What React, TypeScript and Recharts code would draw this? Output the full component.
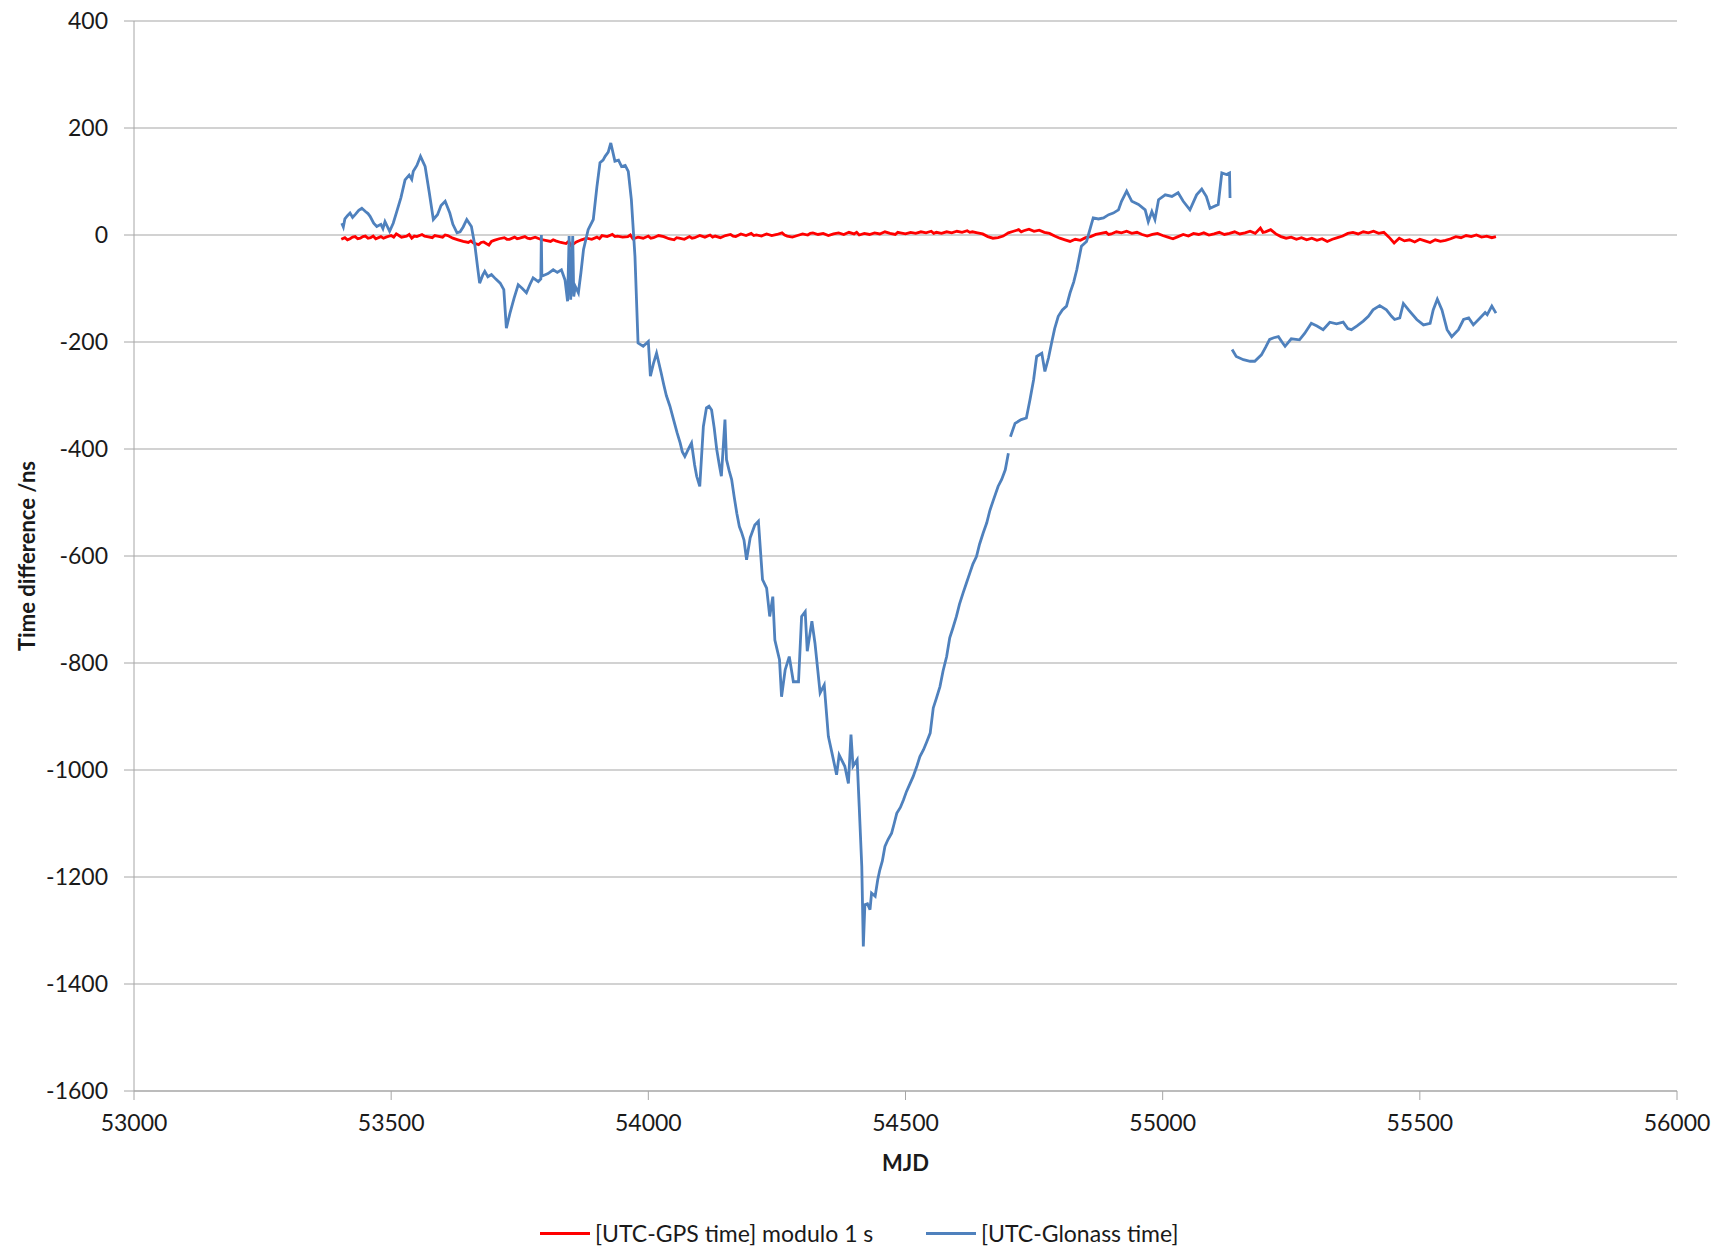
import { LineChart, Line, XAxis, YAxis, CartesianGrid } from 'recharts'

// [MJD, ns]
const gpsPoints: [number, number][] = [
  [53403, -8], [53410, -5], [53415, -9], [53420, -7], [53425, -4], [53430, -3], [53435, -7], [53440, -6], [53445, -3], [53450, -2], [53455, -6], [53460, -5], [53465, -2], [53470, -7],
  [53480, -3], [53485, -6], [53490, -4], [53500, -1], [53505, -4], [53510, 2], [53515, -1], [53520, -4], [53530, -2], [53535, 1], [53540, -6], [53545, -2], [53550, -3],
  [53560, 1], [53565, -2], [53570, -3], [53580, -5], [53585, -1], [53590, -2], [53600, -4], [53605, 0], [53610, -1], [53620, -6], [53630, -9],
  [53640, -12], [53650, -14], [53655, -11], [53660, -15], [53670, -18], [53675, -14], [53680, -13], [53690, -19], [53695, -12], [53700, -10], [53710, -7],
  [53720, -5], [53725, -8], [53730, -8], [53740, -4], [53745, -7], [53750, -6], [53760, -3], [53765, -6], [53770, -7], [53780, -4], [53790, -8],
  [53800, -10], [53810, -12], [53815, -9], [53820, -11], [53830, -14], [53840, -16], [53845, -12], [53850, -20], [53860, -13], [53870, -9],
  [53880, -6], [53890, -8], [53900, -4], [53905, -7], [53910, -1], [53920, -3], [53930, 1], [53935, -3], [53940, -2], [53950, -4],
  [53960, -3], [53965, 0], [53970, -7], [53980, -4], [53990, -6], [54000, -2], [54005, -6], [54010, -5], [54020, -1], [54030, -3],
  [54040, -7], [54050, -9], [54055, -5], [54060, -6], [54070, -8], [54080, -3], [54085, -6], [54090, -5], [54100, -1], [54110, -4],
  [54120, 0], [54125, -4], [54130, -2], [54140, -5], [54150, -1], [54160, 1], [54165, -2], [54170, -3], [54180, 2], [54190, -1],
  [54200, 3], [54205, -1], [54210, 0], [54220, -2], [54230, 2], [54240, -1], [54250, 1], [54260, 4], [54265, 0], [54270, -2],
  [54280, -4], [54290, -1], [54300, 2], [54310, 0], [54315, 3], [54320, 4], [54330, 1], [54340, 3], [54350, -1],
  [54360, 2], [54370, 4], [54380, 1], [54390, 5], [54400, 2], [54405, 5], [54410, 0], [54420, 3], [54430, 1],
  [54440, 4], [54450, 2], [54460, 6], [54470, 3], [54480, 1], [54485, 5], [54490, 4], [54500, 2], [54510, 5],
  [54520, 3], [54530, 6], [54540, 4], [54550, 7], [54555, 3], [54560, 5], [54570, 3], [54580, 6], [54590, 4],
  [54600, 7], [54610, 5], [54620, 8], [54625, 5], [54630, 6], [54640, 4], [54650, 2], [54660, -3], [54670, -6],
  [54680, -5], [54690, -2], [54700, 4], [54710, 7], [54720, 10], [54725, 6], [54730, 8], [54740, 11], [54750, 7],
  [54760, 9], [54770, 5], [54780, 3], [54790, -2], [54800, -6], [54810, -9], [54820, -12], [54830, -8],
  [54840, -10], [54850, -5], [54860, -3], [54870, 1], [54880, 3], [54890, 5], [54895, 1], [54900, 2], [54910, 6],
  [54920, 4], [54930, 7], [54940, 3], [54950, 5], [54960, 1], [54970, -2], [54980, 1], [54990, 3],
  [55000, -1], [55010, -4], [55020, -7], [55030, -3], [55040, 1], [55050, -2], [55060, 3], [55070, 1],
  [55080, 4], [55090, 0], [55100, 2], [55110, 5], [55120, 1], [55130, 3], [55140, 6], [55150, 2],
  [55160, 4], [55170, 7], [55180, 3], [55190, 13], [55195, 5], [55200, 6], [55210, 10], [55220, 2], [55230, -3],
  [55240, -6], [55250, -4], [55260, -8], [55270, -5], [55280, -9], [55290, -6], [55300, -10], [55310, -7],
  [55320, -12], [55330, -8], [55340, -5], [55350, -2], [55360, 3], [55370, 5], [55380, 2], [55390, 6],
  [55400, 4], [55410, 7], [55420, 3], [55430, 5], [55440, -4], [55450, -15], [55460, -6], [55470, -11],
  [55480, -9], [55490, -13], [55500, -8], [55510, -11], [55520, -14], [55530, -9], [55540, -12], [55550, -10],
  [55560, -7], [55570, -3], [55580, -5], [55590, -1], [55600, -3], [55610, 0], [55620, -4], [55630, -2],
  [55640, -5], [55648, -3],
]

// null = break in the record
const glonassPoints: [number, number | null][] = [
  [53404, 22], [53407, 15], [53410, 30], [53415, 36], [53420, 41], [53425, 33], [53430, 38], [53437, 46], [53443, 50], [53450, 44], [53455, 40], [53459, 35], [53466, 22],
  [53472, 16], [53480, 20], [53484, 12], [53488, 25], [53497, 7], [53504, 22], [53511, 44], [53519, 70], [53527, 103],
  [53535, 112], [53540, 104], [53543, 119], [53550, 130], [53557, 147], [53566, 128], [53574, 80], [53582, 29], [53590, 38],
  [53597, 55], [53605, 63], [53614, 41], [53620, 20], [53628, 4], [53634, 6], [53640, 15], [53647, 29],
  [53656, 16], [53663, -21], [53668, -60], [53672, -90], [53678, -75], [53682, -68], [53688, -78], [53695, -74],
  [53703, -82], [53712, -90], [53719, -102], [53724, -174], [53731, -146], [53739, -118], [53747, -93], [53755, -100],
  [53763, -108], [53770, -92], [53776, -80], [53786, -87], [53791, -82], [53792, 0], [53793, -77], [53805, -72],
  [53815, -65], [53823, -70], [53831, -65], [53838, -84], [53843, -124], [53846, -2], [53849, -121], [53853, -2],
  [53855, -115], [53858, -96], [53864, -108], [53869, -70], [53874, -27], [53883, 10], [53893, 29], [53900, 90],
  [53906, 135], [53912, 140], [53916, 147], [53922, 155], [53927, 172], [53935, 138], [53942, 140], [53948, 128], [53955, 130],
  [53961, 119], [53967, 66], [53974, -40], [53980, -202], [53990, -208], [54000, -199], [54004, -264], [54010, -240],
  [54016, -221], [54025, -258], [54030, -280], [54035, -300], [54042, -320], [54049, -345], [54056, -370], [54062, -389], [54066, -405], [54071, -414],
  [54078, -400], [54084, -389], [54090, -430], [54094, -451], [54100, -470], [54107, -358], [54113, -323], [54118, -320],
  [54123, -327], [54128, -360], [54133, -401], [54138, -430], [54142, -451], [54149, -345], [54152, -420], [54157, -440],
  [54162, -457], [54167, -490], [54172, -520], [54177, -545], [54181, -555], [54186, -570], [54191, -607], [54198, -566], [54207, -542],
  [54214, -535], [54217, -576], [54222, -644], [54230, -660], [54236, -713], [54242, -676], [54246, -757], [54255, -794],
  [54259, -863], [54266, -813], [54274, -788], [54282, -835], [54292, -835], [54298, -713], [54305, -704], [54309, -778],
  [54318, -722], [54324, -763], [54334, -856], [54342, -841], [54350, -937], [54357, -968], [54366, -1009], [54371, -972],
  [54382, -993], [54389, -1025], [54394, -934], [54398, -993], [54406, -981], [54410, -1068], [54415, -1180], [54418, -1330],
  [54421, -1252], [54426, -1250], [54431, -1261], [54434, -1230], [54441, -1236], [54446, -1205], [54450, -1187], [54455, -1170], [54460, -1143], [54466, -1130], [54473, -1118], [54478, -1100], [54483, -1081],
  [54490, -1070], [54496, -1056], [54502, -1040], [54509, -1025], [54515, -1012], [54522, -993], [54528, -975], [54535, -962], [54541, -948], [54548, -931], [54554, -884], [54560, -866], [54567, -844], [54573, -815], [54580, -788],
  [54586, -753], [54592, -735], [54599, -713], [54605, -690], [54612, -669], [54618, -652], [54625, -632], [54631, -615], [54638, -601], [54644, -578], [54651, -557], [54658, -538], [54664, -515], [54671, -495],
  [54680, -470], [54687, -457], [54694, -439], [54700, -408], [54702, null], [54704, -377], [54713, -352], [54725, -345],
  [54735, -342], [54742, -308], [54749, -271], [54755, -227], [54765, -221], [54771, -255], [54778, -230], [54784, -202],
  [54790, -175], [54797, -152], [54805, -140], [54813, -133], [54820, -108], [54827, -88], [54833, -65], [54842, -21], [54852, -12], [54860, 15], [54865, 32],
  [54875, 30], [54885, 32], [54895, 38], [54904, 41], [54914, 47], [54920, 63], [54930, 82], [54940, 63],
  [54953, 57], [54966, 47], [54972, 25], [54979, 44], [54985, 29], [54992, 66], [55005, 75], [55018, 72],
  [55030, 79], [55040, 63], [55053, 47], [55066, 75], [55076, 86], [55085, 72], [55092, 50], [55108, 57],
  [55115, 116], [55124, 113], [55130, 116], [55131, 69], [55132, null],
  [55135, -214], [55143, -227], [55157, -233], [55170, -236], [55179, -236], [55192, -224], [55200, -210], [55208, -195],
  [55216, -192], [55225, -190], [55232, -200], [55238, -208], [55250, -194], [55266, -196], [55276, -184], [55289, -165],
  [55300, -170], [55312, -177], [55325, -163], [55338, -166], [55351, -163], [55360, -175], [55367, -177], [55378, -170],
  [55390, -161], [55400, -152], [55409, -140], [55422, -132], [55435, -140], [55445, -152], [55451, -158], [55461, -155],
  [55468, -128], [55478, -140], [55494, -158], [55507, -168], [55520, -165], [55526, -140], [55534, -120], [55543, -140],
  [55553, -177], [55562, -190], [55575, -177], [55585, -158], [55595, -155], [55604, -168], [55617, -155], [55627, -145],
  [55631, -149], [55640, -133], [55648, -146],
]

const xTicks = [53000, 53500, 54000, 54500, 55000, 55500, 56000]
const yTicks = [-1600, -1400, -1200, -1000, -800, -600, -400, -200, 0, 200, 400]

const gpsLabel = '[UTC-GPS time] modulo 1 s'
const glonassLabel = '[UTC-Glonass time]'

const FONT = 'Lato, "Open Sans", sans-serif'
const GRID = '#a6a6a6'
const TEXT = '#1a1a1a'

const gpsData = gpsPoints.map(([mjd, v]) => ({ mjd, v }))
const glonassData = glonassPoints.map(([mjd, v]) => ({ mjd, v }))

function YTitle({ viewBox }: any) {
  const cy = viewBox.y + viewBox.height / 2
  return (
    <text
      x={26}
      y={cy}
      transform={`rotate(-90, 26, ${cy})`}
      textAnchor="middle"
      dominantBaseline="central"
      fontFamily={FONT}
      fontSize={22}
      fontWeight={700}
      fill={TEXT}
    >
      Time difference /ns
    </text>
  )
}

function XTitle({ viewBox }: any) {
  return (
    <text
      x={viewBox.x + viewBox.width / 2}
      y={viewBox.y + 71}
      textAnchor="middle"
      dominantBaseline="central"
      fontFamily={FONT}
      fontSize={22}
      fontWeight={700}
      fill={TEXT}
    >
      MJD
    </text>
  )
}

function LegendItem({ color, label, left }: { color: string; label: string; left: number }) {
  return (
    <div style={{ position: 'absolute', left, top: 0, display: 'flex', alignItems: 'center', whiteSpace: 'nowrap' }}>
      <div style={{ width: 50, height: 3, background: color, marginRight: 5 }} />
      <span>{label}</span>
    </div>
  )
}

export default function App() {
  return (
    <div style={{ position: 'absolute', left: 0, top: 0, width: 1722, height: 1252, background: '#fff' }}>
      <LineChart width={1722} height={1252} margin={{ top: 21, right: 45, left: 0, bottom: 61 }}>
        <CartesianGrid vertical={false} stroke={GRID} strokeWidth={1.2} />
        <XAxis
          type="number"
          dataKey="mjd"
          domain={[53000, 56000]}
          ticks={xTicks}
          allowDataOverflow
          height={100}
          stroke={GRID}
          tickSize={9}
          tickMargin={15}
          tick={{ fontFamily: FONT, fontSize: 23, fill: TEXT }}
          label={{ content: XTitle }}
        />
        <YAxis
          type="number"
          domain={[-1600, 400]}
          ticks={yTicks}
          allowDataOverflow
          width={134}
          stroke={GRID}
          tickSize={10}
          tickMargin={16}
          tick={{ fontFamily: FONT, fontSize: 23, fill: TEXT }}
          label={{ content: YTitle }}
        />
        <Line
          data={gpsData}
          dataKey="v"
          name={gpsLabel}
          type="linear"
          stroke="#ff0000"
          strokeWidth={2.8}
          dot={false}
          isAnimationActive={false}
        />
        <Line
          data={glonassData}
          dataKey="v"
          name={glonassLabel}
          type="linear"
          stroke="#4f81bd"
          strokeWidth={2.8}
          dot={false}
          connectNulls={false}
          isAnimationActive={false}
        />
      </LineChart>
      <div
        style={{
          position: 'absolute',
          left: 0,
          top: 1219,
          width: 1722,
          height: 28,
          fontFamily: FONT,
          fontSize: 23,
          color: TEXT,
          lineHeight: '28px',
        }}
      >
        <LegendItem color="#ff0000" label={gpsLabel} left={540} />
        <LegendItem color="#4f81bd" label={glonassLabel} left={926} />
      </div>
    </div>
  )
}
